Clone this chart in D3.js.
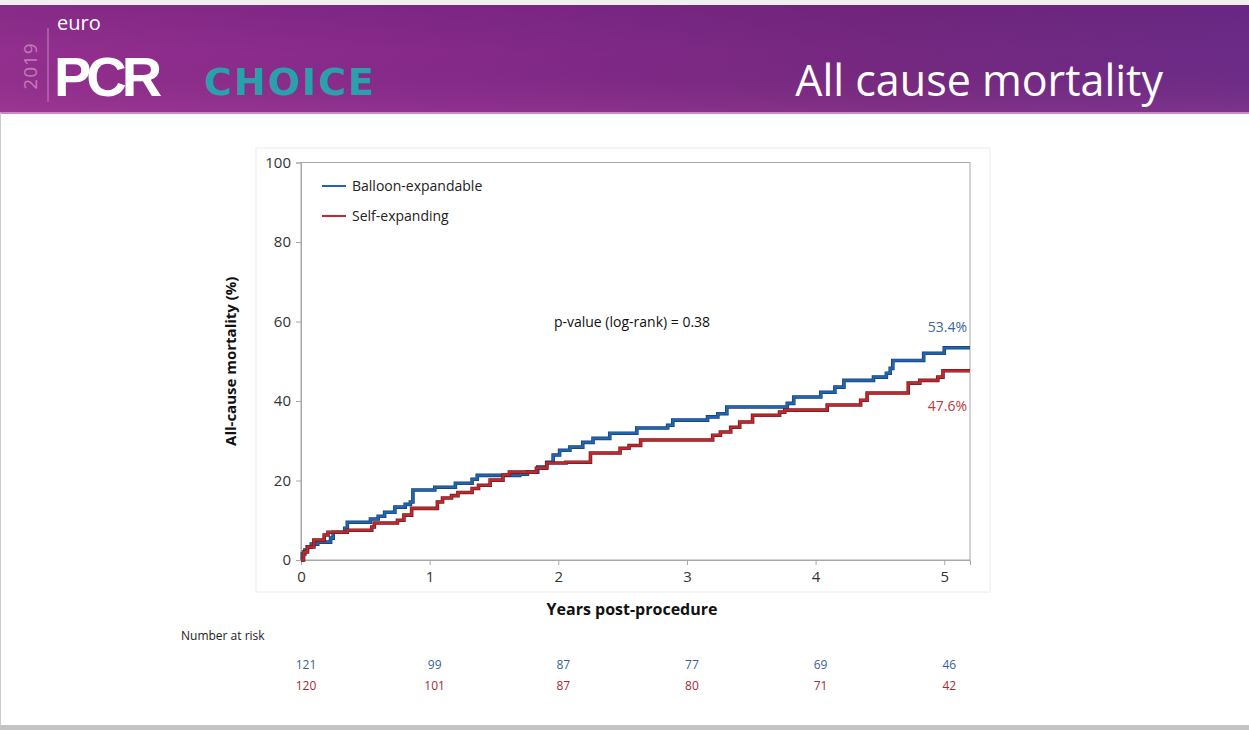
<!DOCTYPE html>
<html>
<head>
<meta charset="utf-8">
<script src="https://cdn.jsdelivr.net/npm/d3@7"></script>
<style>
  body { margin: 0; background: #fff; }
  svg { display: block; font-family: "Open Sans", "Noto Sans", sans-serif; }
</style>
</head>
<body>
<div id="chart"></div>
<script>
// Kaplan-Meier style cumulative mortality
var balloonSteps = [
  [0, 0], [0.01, 1.5], [0.03, 2.5], [0.05, 3.3], [0.08, 4], [0.13, 4.5], [0.23, 5.5], [0.25, 7],
  [0.34, 8], [0.36, 9.5], [0.54, 10.3], [0.6, 11], [0.65, 12], [0.73, 13.3], [0.81, 14], [0.85, 14.6],
  [0.87, 17.6], [1.04, 18.3], [1.2, 19.3], [1.33, 20.3], [1.37, 21.3], [1.7, 21.6], [1.76, 22.1],
  [1.84, 23.4], [1.91, 24.6], [1.96, 26.4], [2.01, 27.6], [2.09, 28.4], [2.19, 29.6], [2.27, 30.6],
  [2.4, 31.9], [2.61, 33.2], [2.85, 33.9], [2.89, 35.2], [3.16, 36], [3.24, 36.8], [3.31, 38.5],
  [3.78, 39.4], [3.83, 41], [4.04, 42.2], [4.15, 43.5], [4.22, 45.2], [4.45, 46], [4.55, 47],
  [4.58, 48.2], [4.6, 50.2], [4.84, 52], [5.0, 53.4], [5.2, 53.4]
]
var selfSteps = [
  [0, 0], [0.02, 2], [0.05, 3.3], [0.1, 5], [0.18, 6.3], [0.21, 7], [0.36, 7.5], [0.55, 8.3],
  [0.57, 9.3], [0.75, 10], [0.8, 11.3], [0.86, 13], [1.06, 14.6], [1.1, 15.6], [1.17, 16.2],
  [1.22, 17], [1.33, 18], [1.38, 18.8], [1.47, 20.1], [1.57, 21.4], [1.62, 22.1], [1.83, 23.1],
  [1.91, 24.4], [2.06, 24.6], [2.25, 26.9], [2.48, 28.1], [2.55, 28.8], [2.64, 30.2], [3.2, 31.4],
  [3.26, 32.2], [3.34, 33.4], [3.41, 34.7], [3.51, 36.4], [3.72, 37.2], [3.76, 37.7], [4.09, 39],
  [4.35, 40.2], [4.4, 42], [4.72, 44.5], [4.81, 45.2], [4.95, 46], [4.99, 47.6], [5.2, 47.6]
]
var seriesNames = ["Balloon-expandable", "Self-expanding"]
var finalLabels = ["53.4%", "47.6%"]
var xTicks = [0, 1, 2, 3, 4, 5]
var yTicks = [0, 20, 40, 60, 80, 100]
var riskBalloon = [121, 99, 87, 77, 69, 46]
var riskSelf = [120, 101, 87, 80, 71, 42]

var width = 1249
var height = 730
var blue = "#1f66b1"
var red = "#c0282e"

var svg = d3.select("#chart").append("svg")
  .attr("width", width)
  .attr("height", height)

var defs = svg.append("defs")
var grad = defs.append("linearGradient").attr("id", "band")
  .attr("x1", "0%").attr("x2", "100%").attr("y1", "0%").attr("y2", "0%")
grad.append("stop").attr("offset", "0%").attr("stop-color", "#942f8e")
grad.append("stop").attr("offset", "35%").attr("stop-color", "#86298a")
grad.append("stop").attr("offset", "70%").attr("stop-color", "#75287f")
grad.append("stop").attr("offset", "100%").attr("stop-color", "#6c2b88")
var shade = defs.append("linearGradient").attr("id", "shade")
  .attr("x1", "0%").attr("x2", "0%").attr("y1", "0%").attr("y2", "100%")
shade.append("stop").attr("offset", "0%").attr("stop-color", "#5a1e6e").attr("stop-opacity", 0.25)
shade.append("stop").attr("offset", "45%").attr("stop-color", "#5a1e6e").attr("stop-opacity", 0)
shade.append("stop").attr("offset", "100%").attr("stop-color", "#b0509a").attr("stop-opacity", 0.25)

// slide frame
svg.append("rect").attr("x", 0).attr("y", 0).attr("width", width).attr("height", 6).attr("fill", "#efefef")
svg.append("rect").attr("x", 0).attr("y", 5).attr("width", width).attr("height", 108).attr("fill", "url(#band)")
svg.append("rect").attr("x", 0).attr("y", 5).attr("width", width).attr("height", 108).attr("fill", "url(#shade)")
svg.append("rect").attr("x", 0).attr("y", 112).attr("width", width).attr("height", 2).attr("fill", "#c98ac2")
svg.append("rect").attr("x", 0).attr("y", 725).attr("width", width).attr("height", 5).attr("fill", "#c4c4c4")
svg.append("line").attr("x1", 0.5).attr("x2", 0.5).attr("y1", 113).attr("y2", 725).attr("stroke", "#ccc")

// logo
svg.append("text")
  .attr("transform", "translate(37,66) rotate(-90)")
  .attr("text-anchor", "middle")
  .attr("font-size", 19)
  .attr("fill", "#c47bb8")
  .attr("letter-spacing", 1)
  .text("2019")
svg.append("line").attr("x1", 48).attr("x2", 48).attr("y1", 28).attr("y2", 102)
  .attr("stroke", "#b46aae").attr("stroke-width", 1.5)
svg.append("text").attr("x", 57).attr("y", 30)
  .attr("font-size", 20).attr("fill", "#fff").text("euro")
svg.append("text").attr("x", 54).attr("y", 96)
  .attr("font-family", "Liberation Sans, Arial, sans-serif")
  .attr("font-size", 56).attr("font-weight", "bold").attr("fill", "#fff")
  .attr("letter-spacing", -5)
  .text("PCR")
svg.append("text").attr("x", 204).attr("y", 95)
  .attr("font-family", "DejaVu Sans, sans-serif")
  .attr("font-size", 38).attr("font-weight", "bold").attr("fill", "#2aa0aa")
  .attr("letter-spacing", 2)
  .text("CHOICE")

// title
svg.append("text").attr("x", 1163).attr("y", 96)
  .attr("text-anchor", "end")
  .attr("font-size", 43).attr("fill", "#fff")
  .text("All cause mortality")

// chart box
svg.append("rect").attr("x", 256).attr("y", 148).attr("width", 734).attr("height", 444)
  .attr("fill", "none").attr("stroke", "#ececec")

var x = d3.scaleLinear().domain([0, 5.2]).range([301, 970])
var y = d3.scaleLinear().domain([0, 100]).range([560, 162.5])

svg.append("rect")
  .attr("x", x(0)).attr("y", y(100))
  .attr("width", x(5.2) - x(0)).attr("height", y(0) - y(100))
  .attr("fill", "none").attr("stroke", "#a8a8a8")

var xAxis = svg.append("g")
  .attr("transform", "translate(0," + y(0) + ")")
  .call(d3.axisBottom(x).tickValues(xTicks).tickFormat(d3.format("d")).tickSize(5).tickPadding(6))
var yAxis = svg.append("g")
  .attr("transform", "translate(" + x(0) + ",0)")
  .call(d3.axisLeft(y).tickValues(yTicks).tickSize(5).tickPadding(5))
for (const ax of [xAxis, yAxis]) {
  ax.select(".domain").attr("stroke", "#a8a8a8")
  ax.selectAll(".tick line").attr("stroke", "#a8a8a8")
  ax.selectAll("text").attr("font-size", 15).attr("fill", "#333")
    .attr("font-family", "Open Sans, sans-serif")
}

svg.append("text")
  .attr("transform", "translate(236," + y(50) + ") rotate(-90)")
  .attr("text-anchor", "middle")
  .attr("font-size", 15).attr("font-weight", "bold").attr("fill", "#111")
  .text("All-cause mortality (%)")
svg.append("text").attr("x", 632).attr("y", 615)
  .attr("text-anchor", "middle")
  .attr("font-size", 16).attr("font-weight", "bold").attr("fill", "#111")
  .text("Years post-procedure")

var line = d3.line()
  .x(function (d) { return x(d[0]) })
  .y(function (d) { return y(d[1]) })
  .curve(d3.curveStepAfter)

var series = [balloonSteps, selfSteps]
var colors = [blue, red]
var darks = ["#1a3c6e", "#6e1a1e"]
series.forEach(function (s, i) {
  svg.append("path").datum(s).attr("d", line)
    .attr("fill", "none").attr("stroke", darks[i]).attr("stroke-width", 3.6)
  svg.append("path").datum(s).attr("d", line)
    .attr("fill", "none").attr("stroke", colors[i]).attr("stroke-width", 2.2)
})

// legend
seriesNames.forEach(function (name, i) {
  var ly = 186 + i * 30
  svg.append("line").attr("x1", 322).attr("x2", 346).attr("y1", ly).attr("y2", ly)
    .attr("stroke", colors[i]).attr("stroke-width", 2)
  svg.append("text").attr("x", 352).attr("y", ly + 5)
    .attr("font-size", 14).attr("fill", "#222").text(name)
})

svg.append("text").attr("x", 632).attr("y", 327)
  .attr("text-anchor", "middle")
  .attr("font-size", 14).attr("fill", "#111")
  .text("p-value (log-rank) = 0.38")

var finalColors = ["#3a64a0", "#c0393c"]
var finalY = [y(53.4) - 21, y(47.6) + 35]
finalLabels.forEach(function (t, i) {
  svg.append("text").attr("x", 967).attr("y", finalY[i] + 5)
    .attr("text-anchor", "end")
    .attr("font-size", 14).attr("fill", finalColors[i])
    .text(t)
})

// number at risk table
svg.append("text").attr("x", 181).attr("y", 640)
  .attr("font-size", 12).attr("fill", "#222").text("Number at risk")
var riskRows = [riskBalloon, riskSelf]
var riskColors = ["#3a5f95", "#a82a30"]
riskRows.forEach(function (row, i) {
  svg.selectAll(null).data(row).enter().append("text")
    .attr("x", function (d, j) { return x(xTicks[j]) + 5 })
    .attr("y", 669 + i * 21)
    .attr("text-anchor", "middle")
    .attr("font-size", 12).attr("fill", riskColors[i])
    .text(function (d) { return d })
})
</script>
</body>
</html>
